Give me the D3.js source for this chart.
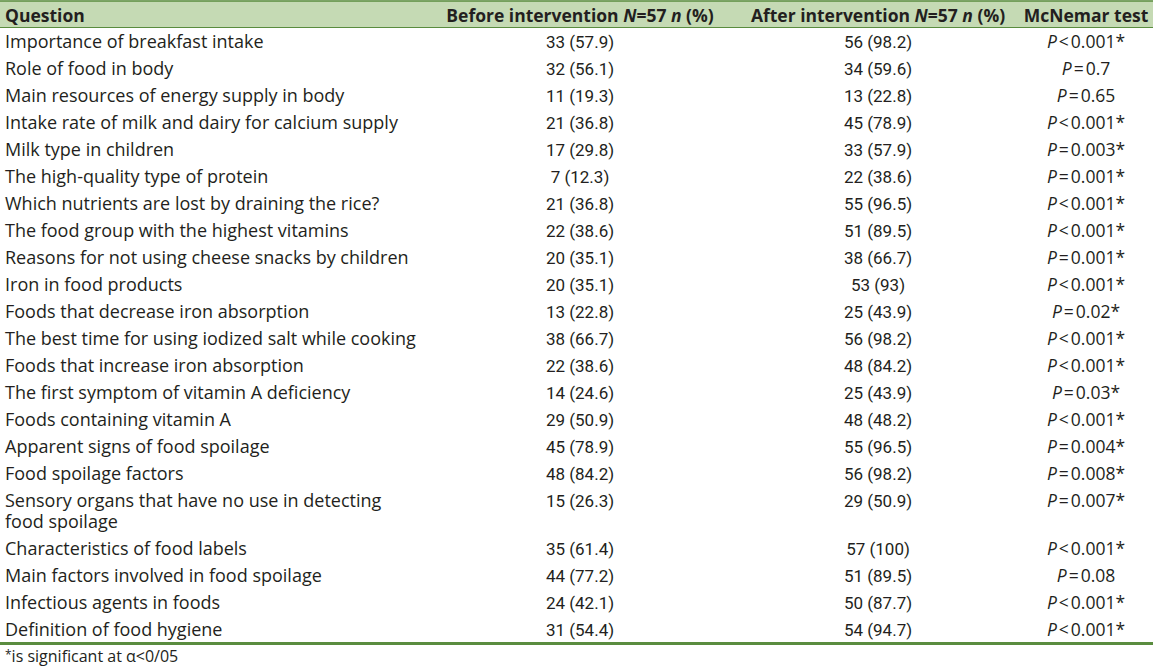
<!DOCTYPE html>
<html>
<head>
<meta charset="utf-8">
<script src="https://cdn.jsdelivr.net/npm/d3@7"></script>
<style>
  body { margin: 0; background: #fff; }
  text { fill: #231f20; }
</style>
</head>
<body>
<div id="table"></div>
<script>
var headers = ["Question", "Before intervention", "After intervention", "McNemar test"];

var questions = [
    ["Importance of breakfast intake"],
    ["Role of food in body"],
    ["Main resources of energy supply in body"],
    ["Intake rate of milk and dairy for calcium supply"],
    ["Milk type in children"],
    ["The high-quality type of protein"],
    ["Which nutrients are lost by draining the rice?"],
    ["The food group with the highest vitamins"],
    ["Reasons for not using cheese snacks by children"],
    ["Iron in food products"],
    ["Foods that decrease iron absorption"],
    ["The best time for using iodized salt while cooking"],
    ["Foods that increase iron absorption"],
    ["The first symptom of vitamin A deficiency"],
    ["Foods containing vitamin A"],
    ["Apparent signs of food spoilage"],
    ["Food spoilage factors"],
    ["Sensory organs that have no use in detecting", "food spoilage"],
    ["Characteristics of food labels"],
    ["Main factors involved in food spoilage"],
    ["Infectious agents in foods"],
    ["Definition of food hygiene"]
];

var before_n   = [33, 32, 11, 21, 17, 7, 21, 22, 20, 20, 13, 38, 22, 14, 29, 45, 48, 15, 35, 44, 24, 31];
var before_pct = [57.9, 56.1, 19.3, 36.8, 29.8, 12.3, 36.8, 38.6, 35.1, 35.1, 22.8, 66.7, 38.6, 24.6, 50.9, 78.9, 84.2, 26.3, 61.4, 77.2, 42.1, 54.4];
var after_n    = [56, 34, 13, 45, 33, 22, 55, 51, 38, 53, 25, 56, 48, 25, 48, 55, 56, 29, 57, 51, 50, 54];
var after_pct  = [98.2, 59.6, 22.8, 78.9, 57.9, 38.6, 96.5, 89.5, 66.7, 93, 43.9, 98.2, 84.2, 43.9, 48.2, 96.5, 98.2, 50.9, 100, 89.5, 87.7, 94.7];
var p_sign     = ["<", "=", "=", "<", "=", "=", "<", "<", "=", "<", "=", "<", "<", "=", "<", "=", "=", "=", "<", "=", "<", "<"];
var p_value    = ["0.001*", "0.7", "0.65", "0.001*", "0.003*", "0.001*", "0.001*", "0.001*", "0.001*", "0.001*", "0.02*", "0.001*", "0.001*", "0.03*", "0.001*", "0.004*", "0.008*", "0.007*", "0.001*", "0.08", "0.001*", "0.001*"];

var footnote = "is significant at \u03b1<0/05";

var width = 1153, height = 669,
    row_step = 27, line_step = 21, first_base = 47.5,
    green = "#5a8c3f",
    body_font = "'Open Sans', sans-serif",
    num_font = "Roboto, sans-serif";

var svg = d3.select("#table").append("svg")
    .attr("width", width)
    .attr("height", height);

// column anchors
var col_x = d3.scaleOrdinal()
    .domain(["q", "before", "after", "p"])
    .range([5, 580, 878, 1086]);

var rows = questions.map(function(q, i) {
    return {
        lines: q,
        before: before_n[i] + " (" + before_pct[i] + ")",
        after: after_n[i] + " (" + after_pct[i] + ")",
        sign: p_sign[i],
        p: p_value[i]
    };
});

// baseline of each row, wrapped rows push the rest down
var extra = 0;
rows.forEach(function(d, i) {
    d.y = first_base + i * row_step + extra;
    extra += (d.lines.length - 1) * line_step;
});

/*
 * Header band
 */
svg.append("rect")
    .attr("x", 0).attr("y", 0.5)
    .attr("width", width).attr("height", 27)
    .style("fill", "#c5dab4");
svg.append("line")
    .attr("x1", 0).attr("x2", width)
    .attr("y1", 1).attr("y2", 1)
    .style("stroke", green).style("stroke-width", 1.5);
svg.append("line")
    .attr("x1", 0).attr("x2", width)
    .attr("y1", 27.5).attr("y2", 27.5)
    .style("stroke", green).style("stroke-width", 1);

var head = svg.append("g")
    .style("font-family", body_font)
    .style("font-weight", "bold")
    .style("font-size", "17.5px");

head.append("text")
    .attr("x", col_x("q")).attr("y", 21.5)
    .text(headers[0]);

["before", "after"].forEach(function(k, i) {
    var t = head.append("text")
        .attr("x", col_x(k)).attr("y", 21.5)
        .attr("text-anchor", "middle");
    t.append("tspan").text(headers[i + 1] + " ");
    t.append("tspan").style("font-style", "italic").text("N");
    t.append("tspan").text("=57 ");
    t.append("tspan").style("font-style", "italic").text("n");
    t.append("tspan").text(" (%)");
});

head.append("text")
    .attr("x", col_x("p")).attr("y", 21.5)
    .attr("text-anchor", "middle")
    .text(headers[3]);

/*
 * Body rows
 */
var row_g = svg.selectAll("g.row")
    .data(rows)
    .enter()
    .append("g")
    .attr("class", "row");

row_g.each(function(d) {
    var g = d3.select(this);
    d.lines.forEach(function(l, k) {
        g.append("text")
            .attr("x", col_x("q"))
            .attr("y", d.y + k * line_step)
            .style("font-family", body_font)
            .style("font-size", "18px")
            .text(l);
    });
});

["before", "after"].forEach(function(k) {
    row_g.append("text")
        .attr("x", col_x(k))
        .attr("y", function(d) { return d.y; })
        .attr("text-anchor", "middle")
        .style("font-family", num_font)
        .style("font-size", "17px")
        .text(function(d) { return d[k]; });
});

row_g.append("text")
    .attr("x", col_x("p"))
    .attr("y", function(d) { return d.y; })
    .attr("text-anchor", "middle")
    .style("font-family", body_font)
    .style("font-size", "17.5px")
    .each(function(d) {
        var t = d3.select(this);
        t.append("tspan").style("font-style", "italic").text("P");
        t.append("tspan").attr("dx", 2).text(d.sign);
        t.append("tspan").attr("dx", 2).text(d.p);
    });

/*
 * Bottom rule and footnote
 */
svg.append("line")
    .attr("x1", 0).attr("x2", width)
    .attr("y1", 643.5).attr("y2", 643.5)
    .style("stroke", green).style("stroke-width", 3);

var foot = svg.append("text")
    .attr("x", 5).attr("y", 662)
    .style("font-family", body_font)
    .style("font-size", "16px");
foot.append("tspan").attr("dy", -3).style("font-size", "12px").text("*");
foot.append("tspan").attr("dy", 3).text(footnote);
</script>
</body>
</html>
